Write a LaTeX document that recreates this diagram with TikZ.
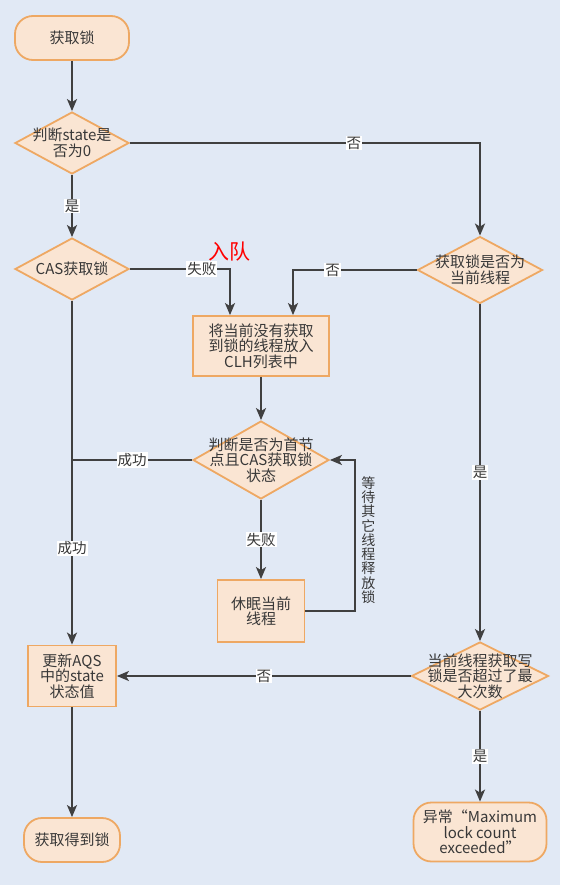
\documentclass[tikz,border=0pt]{standalone}
\usepackage{fontspec}
\setmainfont{Noto Sans CJK SC}
\usepackage{tikz}
\usetikzlibrary{arrows.meta,shapes.geometric}
\definecolor{bgblue}{HTML}{E1E9F5}
\definecolor{boxfill}{HTML}{FAE5D3}
\definecolor{boxline}{HTML}{EEA863}
\definecolor{arrgray}{HTML}{404040}
\definecolor{txtgray}{HTML}{383838}

\begin{document}
\begin{tikzpicture}[x=1pt, y=-1pt,
    font=\fontsize{15}{15.5}\selectfont,
       arr/.style = {line width=2pt, draw=arrgray,
                     -{Stealth[length=12pt, width=10pt, inset=3pt]}},
      line/.style = {line width=2pt, draw=arrgray},
       lbl/.style = {fill=white, inner sep=1pt, text=txtgray,
                     font=\fontsize{14.5}{15}\selectfont},
       box/.style = {rectangle, draw=boxline, fill=boxfill, line width=1.8pt,
                     align=center, text=txtgray, inner sep=2pt},
        rb/.style = {box, rounded corners=18pt},
       dia/.style = {diamond, draw=boxline, fill=boxfill, line width=1.8pt,
                     inner sep=0pt},
    every label/.append style = {align=center, text=txtgray, inner sep=0pt},
                    ]
    \fill[bgblue] (0,0) rectangle (560,885);
    \useasboundingbox (0,0) rectangle (560,885);
    %
    \node[rb, minimum width=114pt, minimum height=44pt] (S) at (72,38) {获取锁};
    \node[dia, minimum width=114pt, minimum height=62pt,
          label={center:判断state是\\否为0}] (D1) at (72,143) {};
    \node[dia, minimum width=114pt, minimum height=62pt,
          label={center:CAS获取锁}] (D2) at (72,269) {};
    \node[dia, minimum width=125pt, minimum height=67pt,
          label={center:获取锁是否为\\当前线程}] (D3) at (480,270) {};
    \node[box, minimum width=136pt, minimum height=60pt] (Q) at (261,346)
        {将当前没有获取\\到锁的线程放入\\CLH列表中};
    \node[dia, minimum width=136pt, minimum height=78pt,
          label={center:判断是否为首节\\点且CAS获取锁\\状态}] (D4) at (261,460) {};
    \node[box, minimum width=87pt, minimum height=62pt] (P) at (261,611)
        {休眠当前\\线程};
    \node[dia, minimum width=137pt, minimum height=68pt,
          label={center:当前线程获取写\\锁是否超过了最\\大次数}] (D5) at (480,676) {};
    \node[box, minimum width=88pt, minimum height=61pt] (U) at (72,676)
        {更新AQS\\中的state\\状态值};
    \node[rb, minimum width=96pt, minimum height=44pt] (G) at (72,840) {获取得到锁};
    \node[rb, minimum width=133pt, minimum height=59pt] (E) at (480,832)
        {异常“Maximum\\lock count\\exceeded”};
    \node[text=red, font=\fontsize{21}{22}\selectfont] (N) at (229,252) {入队};
    %% arrows
    \draw[arr]  (S) -- (D1);
    \draw[arr]  (D1) -- node[lbl] {是} (D2);
    \draw[arr]  (D1.east) -| node[lbl, pos=0.32] {否} (D3.north);
    \draw[arr]  (D2.east) -| node[lbl, pos=0.36] {失败} ([xshift=-31pt]Q.north);
    \draw[arr]  (D3.west) -| node[lbl, pos=0.34] {否} ([xshift=32pt]Q.north);
    \draw[arr]  (Q) -- (D4);
    \draw[line] (D4.west) -- node[lbl] {成功} (D4.west -| D2.south);
    \draw[arr]  (D2) -- node[lbl, pos=0.72] {成功} (U);
    \draw[arr]  (D4) -- node[lbl] {失败} (P);
    \draw[arr]  (P.east) -- ++(50,0) |- node[pos=0.235, right=5pt, text=txtgray,
                align=center, inner sep=0pt, font=\fontsize{14}{14.3}\selectfont]
                {等\\待\\其\\它\\线\\程\\释\\放\\锁} (D4.east);
    \draw[arr]  (D3) -- node[lbl] {是} (D5);
    \draw[arr]  (D5) -- node[lbl] {否} (U);
    \draw[arr]  (D5) -- node[lbl] {是} (E);
    \draw[arr]  (U) -- (G);
\end{tikzpicture}
\end{document}
